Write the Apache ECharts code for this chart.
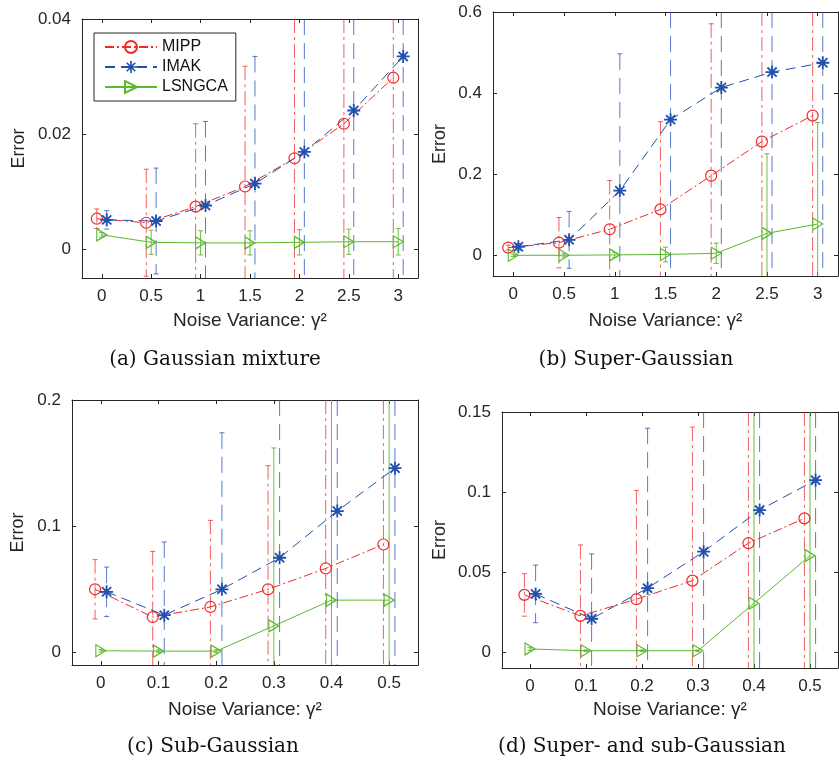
<!DOCTYPE html>
<html><head><meta charset="utf-8">
<script src="https://cdn.jsdelivr.net/npm/echarts@6/dist/echarts.min.js"></script>
<style>html,body{margin:0;padding:0;background:#fff}#c{width:839px;height:765px}</style>
</head><body><div id="c"></div>
<script>
// ---------------- data ----------------
const xAB = [0, 0.5, 1, 1.5, 2, 2.5, 3];
const xCD = [0, 0.1, 0.2, 0.3, 0.4, 0.5];

// (a) Gaussian mixture
const aMIPP      = [0.0053, 0.0046, 0.0074, 0.0109, 0.0158, 0.0218, 0.0298];
const aMIPPErr   = [0.0017, 0.0093, 0.0144, 0.0209, 0.032, 0.042, 0.052];
const aIMAK      = [0.0051, 0.0049, 0.0076, 0.0114, 0.0169, 0.0241, 0.0335];
const aIMAKErr   = [0.0016, 0.0092, 0.0146, 0.0221, 0.033, 0.044, 0.055];
const aLSNGCA    = [0.0025, 0.0012, 0.0011, 0.0011, 0.0012, 0.0013, 0.0013];
const aLSNGCAErr = [0.0004, 0.0021, 0.0021, 0.0021, 0.0022, 0.0022, 0.0023];

// (b) Super-Gaussian
const bMIPP      = [0.020, 0.032, 0.065, 0.114, 0.197, 0.281, 0.345];
const bMIPPErr   = [0.006, 0.062, 0.120, 0.216, 0.374, 0.50, 0.60];
const bIMAK      = [0.022, 0.039, 0.160, 0.335, 0.414, 0.452, 0.475];
const bIMAKErr   = [0.008, 0.070, 0.337, 0.45, 0.55, 0.60, 0.65];
const bLSNGCA    = [0.001, 0.001, 0.002, 0.003, 0.006, 0.055, 0.078];
const bLSNGCAErr = [0.003, 0.004, 0.006, 0.018, 0.025, 0.196, 0.250];

// (c) Sub-Gaussian
const cMIPP      = [0.050, 0.028, 0.036, 0.050, 0.0665, 0.0855];
const cMIPPErr   = [0.0235, 0.052, 0.0686, 0.098, 0.15, 0.20];
const cIMAK      = [0.048, 0.0295, 0.050, 0.075, 0.112, 0.146];
const cIMAKErr   = [0.0196, 0.058, 0.124, 0.15, 0.20, 0.25];
const cLSNGCA    = [0.0013, 0.001, 0.001, 0.021, 0.0414, 0.0414];
const cLSNGCAErr = [0.001, 0.001, 0.001, 0.141, 0.20, 0.20];

// (d) Super- and sub-Gaussian
const dMIPP      = [0.0357, 0.0226, 0.033, 0.0446, 0.068, 0.0835];
const dMIPPErr   = [0.0133, 0.0443, 0.068, 0.096, 0.12, 0.14];
const dIMAK      = [0.0363, 0.0208, 0.0399, 0.0627, 0.0887, 0.1074];
const dIMAKErr   = [0.018, 0.0405, 0.10, 0.13, 0.15, 0.17];
const dLSNGCA    = [0.0019, 0.0008, 0.0008, 0.0008, 0.0305, 0.0602];
const dLSNGCAErr = [0.001, 0.0005, 0.0005, 0.0005, 0.15, 0.16];

// tick values and labels
const xTicksAB = [0, 0.5, 1, 1.5, 2, 2.5, 3];
const xTickLabelsAB = ['0', '0.5', '1', '1.5', '2', '2.5', '3'];
const xTicksCD = [0, 0.1, 0.2, 0.3, 0.4, 0.5];
const xTickLabelsCD = ['0', '0.1', '0.2', '0.3', '0.4', '0.5'];
const yTicksA = [0, 0.02, 0.04];       const yTickLabelsA = ['0', '0.02', '0.04'];
const yTicksB = [0, 0.2, 0.4, 0.6];    const yTickLabelsB = ['0', '0.2', '0.4', '0.6'];
const yTicksC = [0, 0.1, 0.2];         const yTickLabelsC = ['0', '0.1', '0.2'];
const yTicksD = [0, 0.05, 0.1, 0.15];  const yTickLabelsD = ['0', '0.05', '0.1', '0.15'];

const methodNames = ['MIPP', 'IMAK', 'LSNGCA'];
const xAxisTitle = 'Noise Variance: γ²';
const yAxisTitle = 'Error';
const captions = ['(a) Gaussian mixture', '(b) Super-Gaussian', '(c) Sub-Gaussian', '(d) Super- and sub-Gaussian'];

// ---------------- layout / style ----------------
const SANS = '"Liberation Sans", Arial, Helvetica, sans-serif';
const SERIF = '"DejaVu Serif", serif';
const AX = '#262626';
const RED = '#ee2a2a', RED_BAR = 'rgba(238,42,42,0.75)';
const BLUE = '#2150ad', BLUE_BAR = 'rgba(40,90,185,0.8)';
const GREEN = '#5cb82e', GREEN_BAR = 'rgba(92,184,46,0.9)';

const starPath = 'path://M-1.4,-10L1.4,-10L1.4,10L-1.4,10Z M-10,-1.4L10,-1.4L10,1.4L-10,1.4Z M-6.08,-8.06L8.06,6.08L6.08,8.06L-8.06,-6.08Z M-8.06,6.08L6.08,-8.06L8.06,-6.08L-6.08,8.06Z';

const panels = [
  { grid: {left: 82, top: 19, width: 336, height: 259}, xMin: -0.2, xMax: 3.2, yMin: -0.005, yMax: 0.04,
    xs: xAB, xTicks: xTicksAB, xLabels: xTickLabelsAB, yTicks: yTicksA, yLabels: yTickLabelsA, off: 0.05,
    vals: [aMIPP, aIMAK, aLSNGCA], errs: [aMIPPErr, aIMAKErr, aLSNGCAErr], yGap: 54, xGap: 33,
    cap: {x: 215, y: 360} },
  { grid: {left: 493, top: 12, width: 345, height: 264}, xMin: -0.2, xMax: 3.2, yMin: -0.05, yMax: 0.6,
    xs: xAB, xTicks: xTicksAB, xLabels: xTickLabelsAB, yTicks: yTicksB, yLabels: yTickLabelsB, off: 0.05,
    vals: [bMIPP, bIMAK, bLSNGCA], errs: [bMIPPErr, bIMAKErr, bLSNGCAErr], yGap: 44, xGap: 35,
    cap: {x: 636, y: 360} },
  { grid: {left: 72, top: 400, width: 346, height: 265}, xMin: -0.05, xMax: 0.55, yMin: -0.01, yMax: 0.2,
    xs: xCD, xTicks: xTicksCD, xLabels: xTickLabelsCD, yTicks: yTicksC, yLabels: yTickLabelsC, off: 0.01,
    vals: [cMIPP, cIMAK, cLSNGCA], errs: [cMIPPErr, cIMAKErr, cLSNGCAErr], yGap: 45, xGap: 35,
    cap: {x: 213, y: 747} },
  { grid: {left: 502, top: 412, width: 336, height: 256}, xMin: -0.05, xMax: 0.55, yMin: -0.01, yMax: 0.15,
    xs: xCD, xTicks: xTicksCD, xLabels: xTickLabelsCD, yTicks: yTicksD, yLabels: yTickLabelsD, off: 0.01,
    vals: [dMIPP, dIMAK, dLSNGCA], errs: [dMIPPErr, dIMAKErr, dLSNGCAErr], yGap: 53, xGap: 32,
    cap: {x: 642, y: 747} }
];

const methodStyle = [
  { color: RED, bar: RED_BAR, lineType: [9, 3, 2, 3], barDash: [14, 4, 3, 4], dx: -1,
    symbol: 'circle', symbolSize: 11, symbolRotate: 0,
    itemStyle: {color: 'rgba(255,255,255,0)', borderColor: RED, borderWidth: 1.2} },
  { color: BLUE, bar: BLUE_BAR, lineType: [10, 6], barDash: [16, 8], dx: 1,
    symbol: starPath, symbolSize: 13, symbolRotate: 0,
    itemStyle: {color: BLUE, borderWidth: 0} },
  { color: GREEN, bar: GREEN_BAR, lineType: 'solid', barDash: null, dx: 0,
    symbol: 'triangle', symbolSize: [12, 10], symbolRotate: -90,
    itemStyle: {color: 'rgba(255,255,255,0)', borderColor: GREEN, borderWidth: 1.2} }
];

function fmt(ticks, labels) {
  return v => { const i = ticks.findIndex(t => Math.abs(t - v) < 1e-9); return i >= 0 ? labels[i] : ''; };
}

const grids = [], xAxes = [], yAxes = [], series = [], graphics = [];
panels.forEach((p, i) => {
  grids.push(Object.assign({containLabel: false}, p.grid));
  const tickStyle = {color: AX, width: 1};
  xAxes.push({
    type: 'value', gridIndex: i, position: 'bottom', min: p.xMin, max: p.xMax,
    axisLine: {show: true, onZero: false, lineStyle: {color: AX, width: 1}},
    axisTick: {show: true, inside: true, length: 4, customValues: p.xTicks, lineStyle: tickStyle},
    axisLabel: {show: true, customValues: p.xTicks, formatter: fmt(p.xTicks, p.xLabels),
      color: AX, fontSize: 17, fontFamily: SANS, margin: 10},
    splitLine: {show: false},
    name: xAxisTitle, nameLocation: 'middle', nameGap: p.xGap,
    nameTextStyle: {color: AX, fontSize: 19, fontFamily: SANS}
  });
  xAxes.push({
    type: 'value', gridIndex: i, position: 'top', min: p.xMin, max: p.xMax,
    axisLine: {show: true, onZero: false, lineStyle: {color: AX, width: 1}},
    axisTick: {show: true, inside: true, length: 4, customValues: p.xTicks, lineStyle: tickStyle},
    axisLabel: {show: false}, splitLine: {show: false}
  });
  yAxes.push({
    type: 'value', gridIndex: i, position: 'left', min: p.yMin, max: p.yMax,
    axisLine: {show: true, onZero: false, lineStyle: {color: AX, width: 1}},
    axisTick: {show: true, inside: true, length: 4, customValues: p.yTicks, lineStyle: tickStyle},
    axisLabel: {show: true, customValues: p.yTicks, formatter: fmt(p.yTicks, p.yLabels),
      color: AX, fontSize: 17, fontFamily: SANS, margin: 11},
    splitLine: {show: false},
    name: yAxisTitle, nameLocation: 'middle', nameGap: p.yGap,
    nameTextStyle: {color: AX, fontSize: 18, fontFamily: SANS}
  });
  yAxes.push({
    type: 'value', gridIndex: i, position: 'right', min: p.yMin, max: p.yMax,
    axisLine: {show: true, onZero: false, lineStyle: {color: AX, width: 1}},
    axisTick: {show: true, inside: true, length: 4, customValues: p.yTicks, lineStyle: tickStyle},
    axisLabel: {show: false}, splitLine: {show: false}
  });

  methodNames.forEach((name, m) => {
    const st = methodStyle[m];
    const xs = p.xs.map(x => x + st.dx * p.off);
    // error bars
    series.push({
      type: 'custom', name: name + '-err-' + i, xAxisIndex: 2 * i, yAxisIndex: 2 * i,
      silent: true, z: 1, animation: false,
      encode: {x: 0, y: 1},
      data: xs.map((x, k) => [x, p.vals[m][k], p.errs[m][k]]),
      renderItem: (params, api) => {
        const x = api.value(0), y = api.value(1), e = api.value(2);
        const top = api.coord([x, y + e]), bot = api.coord([x, y - e]);
        const cs = params.coordSys;
        const yT = Math.max(top[1], cs.y), yB = Math.min(bot[1], cs.y + cs.height);
        const px = top[0];
        const children = [{
          type: 'line', shape: {x1: px, y1: yT, x2: px, y2: yB},
          style: {stroke: st.bar, lineWidth: 1, lineDash: st.barDash || null, fill: null}
        }];
        const cw = 2.5;
        if (top[1] >= cs.y) children.push({type: 'line', shape: {x1: px - cw, y1: top[1], x2: px + cw, y2: top[1]},
          style: {stroke: st.bar, lineWidth: 1}});
        if (bot[1] <= cs.y + cs.height) children.push({type: 'line', shape: {x1: px - cw, y1: bot[1], x2: px + cw, y2: bot[1]},
          style: {stroke: st.bar, lineWidth: 1}});
        return {type: 'group', children};
      }
    });
    // main line with markers
    series.push({
      type: 'line', name: name, xAxisIndex: 2 * i, yAxisIndex: 2 * i, z: 3,
      data: xs.map((x, k) => [x, p.vals[m][k]]),
      symbol: st.symbol, symbolSize: st.symbolSize, symbolRotate: st.symbolRotate,
      showSymbol: true, showAllSymbol: true,
      itemStyle: st.itemStyle,
      lineStyle: {color: st.color, width: 1, type: st.lineType},
      emphasis: {disabled: true}, animation: false
    });
  });

  graphics.push({
    type: 'text', x: p.cap.x, y: p.cap.y,
    style: {text: captions[i], font: '20px ' + SERIF, fill: '#111',
      textAlign: 'center', textVerticalAlign: 'middle', align: 'center', verticalAlign: 'middle'}
  });
});

const chart = echarts.init(document.getElementById('c'), null, {renderer: 'canvas'});
chart.setOption({
  animation: false,
  backgroundColor: '#fff',
  grid: grids, xAxis: xAxes, yAxis: yAxes, series: series,
  legend: {
    data: methodNames, orient: 'vertical', left: 94, top: 33,
    itemWidth: 52, itemHeight: 15, itemGap: 4, itemTextGap: 6,
    padding: [6, 8, 6, 10], borderColor: AX, borderWidth: 1, borderRadius: 0,
    backgroundColor: '#fff', selectedMode: false,
    textStyle: {fontSize: 16, color: '#111', fontFamily: SANS}
  },
  graphic: graphics
});
</script></body></html>
